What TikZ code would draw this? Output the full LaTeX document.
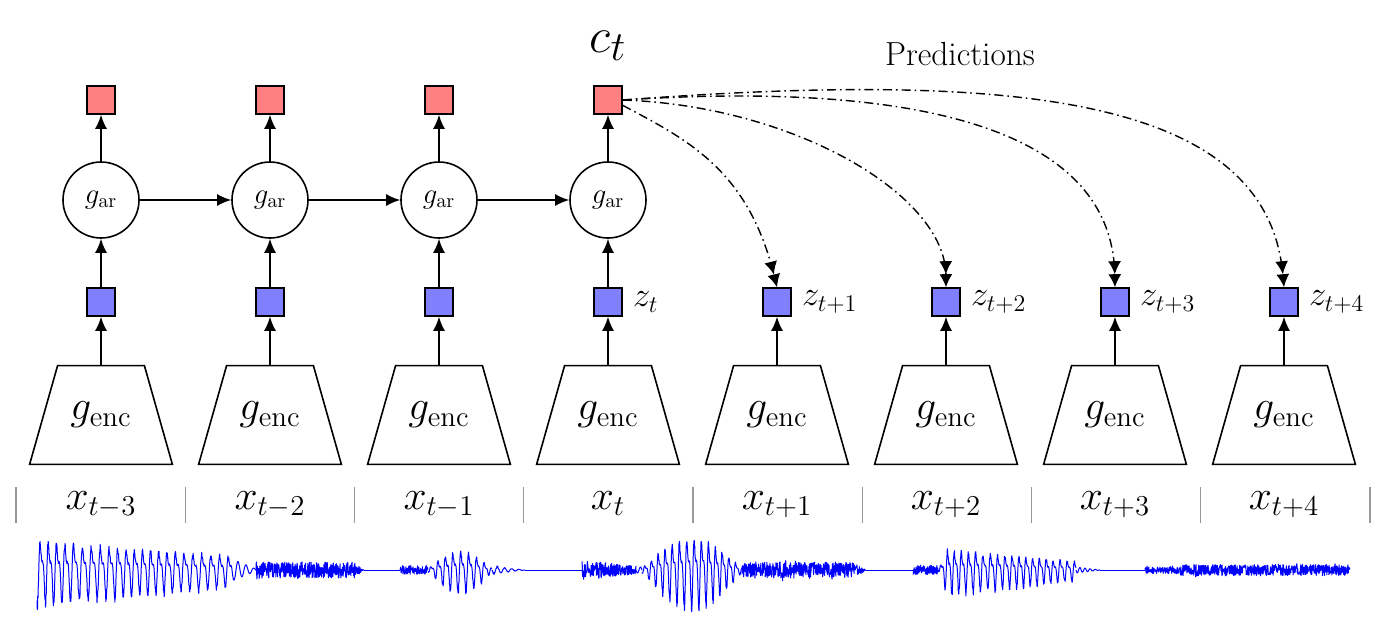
\documentclass[tikz,border=0pt]{standalone}
\usetikzlibrary{shapes.geometric,arrows.meta}
\begin{document}
\begin{tikzpicture}[x=0.5pt,y=0.5pt,
  declare function={wv(\a)=0.7*cos(\a)+0.35*(1.532*sin(\a)*cos(\a)+0.643*(1-2*sin(\a)^2));},
  every node/.style={inner sep=0pt},
  ctxbox/.style={draw, line width=0.8pt, fill=red!50, minimum size=14pt},
  latbox/.style={draw, line width=0.8pt, fill=blue!50, minimum size=14pt},
  arnode/.style={draw, circle, line width=0.8pt, minimum size=38pt, font=\Large},
  encbox/.style={rectangle, minimum width=71pt, minimum height=49pt, font=\huge},
  trap/.style={line width=0.8pt, line join=miter},
  flow/.style={line width=0.8pt, -{Latex[length=7pt,width=6pt]}},
  pred/.style={line width=0.7pt, dash pattern=on 4.5pt off 2pt on 0.8pt off 2pt,
    -{Latex[length=6.5pt,width=6.5pt]Latex[length=6.5pt,width=6.5pt]}},
  sep/.style={gray!80, line width=0.7pt},
  wave/.style={blue, line width=0.5pt, line join=round}]
\useasboundingbox (0,0) rectangle (1392,-639);

% encoders and latents
\foreach \i in {0,...,7} {
  \pgfmathsetmacro{\cx}{101+169*\i}
  \node[encbox] (enc\i) at (\cx,-415) {$g_{\mathrm{enc}}$};
  \draw[trap] (enc\i.south west) -- (enc\i.south east) -- ([xshift=-14pt]enc\i.north east)
    -- ([xshift=14pt]enc\i.north west) -- cycle;
  \node[latbox] (z\i) at (\cx,-302) {};
  \draw[flow] (enc\i.north) -- (z\i.south);
}
% autoregressive part
\foreach \i in {0,...,3} {
  \pgfmathsetmacro{\cx}{101+169*\i}
  \node[arnode] (ar\i) at (\cx,-200) {$g_{\mathrm{ar}}$};
  \node[ctxbox] (c\i) at (\cx,-100) {};
  \draw[flow] (z\i.north) -- (ar\i.south);
  \draw[flow] (ar\i.north) -- (c\i.south);
}
\foreach \i/\j in {0/1,1/2,2/3} \draw[flow] (ar\i.east) -- (ar\j.west);

% labels
\node[font=\Huge, anchor=base] (ctlab) at (608,-52) {$c_t$};
\node[font=\fontsize{16.7}{20}\selectfont, anchor=base] (predlab) at (960,-65) {Predictions};
\node[font=\LARGE, anchor=west] (zl3) at ([xshift=5pt]z3.east) {$z_t$};
\node[font=\LARGE, anchor=west] (zl4) at ([xshift=5pt]z4.east) {$z_{t+1}$};
\node[font=\LARGE, anchor=west] (zl5) at ([xshift=5pt]z5.east) {$z_{t+2}$};
\node[font=\LARGE, anchor=west] (zl6) at ([xshift=5pt]z6.east) {$z_{t+3}$};
\node[font=\LARGE, anchor=west] (zl7) at ([xshift=5pt]z7.east) {$z_{t+4}$};

% predictions
\draw[pred] (c3.-20) .. controls (688,-140) and (748,-170) .. (z4.north);
\draw[pred] (c3.east) .. controls (795,-106) and (945,-195) .. (z5.north);
\draw[pred] (c3.east) .. controls (900,-82) and (1112,-122) .. (z6.north);
\draw[pred] (c3.east) .. controls (1021,-70) and (1267,-98) .. (z7.north);

% input labels and separators
\foreach \i/\s in {0/t-3,1/t-2,2/t-1,3/t,4/t+1,5/t+2,6/t+3,7/t+4} {
  \pgfmathsetmacro{\cx}{101+169*\i}
  \node[font=\huge, anchor=base] (x\i) at (\cx,-509) {$x_{\s}$};
}
\foreach \k in {0,...,8} \draw[sep] (16+169.25*\k,-487) -- ++(0,-36);

% waveform
\pgfmathsetseed{12}
\draw[wave] plot[domain=37:232, samples=800] (\x, {-570 - (40-20*(\x-37)/195)*wv(42.35*(\x-37)+40*sin(3.3*(\x-37)))*(0.7+0.3*rnd)});
\draw[wave] plot[domain=232:256, samples=60] (\x, {-570 - (10*(256-\x)/24+1)*sin(45*(\x-232))});
\draw[wave] plot[domain=256:364, samples=380] (\x, {-570 - (\x<354 ? 1 : (364-\x)/10)*(8*rand + 6*rand*rnd*rnd*rnd)});
\draw[wave] (364,-570) -- (400,-570);
\draw[wave] plot[domain=400:428, samples=100] (\x, {-570 - 4.5*rand});
\draw[wave] plot[domain=428:492, samples=280] (\x, {-570 - (2+25*sin(2.8125*(\x-428)))*wv(48*(\x-428)+30*sin(5*(\x-428)))*(0.7+0.3*rnd)});
\draw[wave] plot[domain=492:525, samples=100] (\x, {-570 - 5*(525-\x)/33*sin(50*(\x-492))*(0.5+0.5*rnd)});
\draw[wave] (525,-570) -- (582,-570);
\draw[wave] plot[domain=582:636, samples=200] (\x, {-570 - (10-6*(\x-582)/54)*rand});
\draw[wave] plot[domain=636:642, samples=20] (\x, {-570 - 3*sin(60*(\x-636))});
\draw[wave] plot[domain=642:742, samples=420] (\x, {-570 - (3+40*sin(1.8*(\x-642)))*wv(51.4*(\x-642)+35*sin(4.1*(\x-642)))*(0.75+0.25*rnd)});
\draw[wave] plot[domain=742:866, samples=450] (\x, {-570 - (\x<854 ? 1 : (866-\x)/12)*(8*rand + 6*rand*rnd*rnd*rnd)});
\draw[wave] (866,-570) -- (913,-570);
\draw[wave] plot[domain=913:938, samples=90] (\x, {-570 - 5*rand});
\draw[wave] plot[domain=938:1076, samples=560] (\x, {-570 - min(3*(\x-938), 31-19*(\x-938)/138)*wv(51*(\x-938)+35*sin(3.7*(\x-938)))*(0.7+0.3*rnd)});
\draw[wave] plot[domain=1076:1100, samples=80] (\x, {-570 - 3*(1100-\x)/24*sin(70*(\x-1076))});
\draw[wave] (1100,-570) -- (1145,-570);
\draw[wave] plot[domain=1145:1350, samples=700] (\x, {-570 - (\x<1180 ? 3.5 : 5.5)*rand - 3*rand*rnd*rnd*rnd});
\end{tikzpicture}
\end{document}
